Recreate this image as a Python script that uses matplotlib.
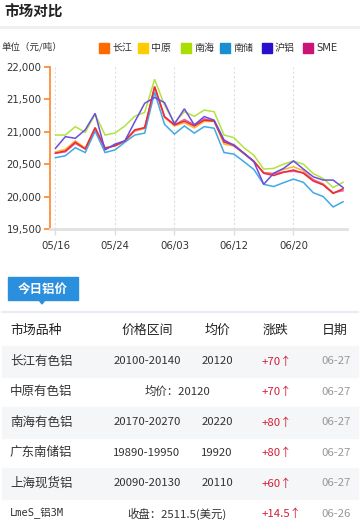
import matplotlib
matplotlib.use("Agg")
import matplotlib.pyplot as plt
from matplotlib.patches import Rectangle, Polygon
from matplotlib.lines import Line2D
from matplotlib.ticker import FuncFormatter

plt.rcParams['font.family'] = ['Noto Sans CJK SC', 'DejaVu Sans']

# ---------------- data ----------------
dates = ['05/16', '05/17', '05/20', '05/21', '05/22', '05/23', '05/24', '05/27', '05/28', '05/29',
         '05/30', '05/31', '06/03', '06/04', '06/05', '06/06', '06/10', '06/11', '06/12', '06/13',
         '06/14', '06/17', '06/18', '06/19', '06/20', '06/21', '06/24', '06/25', '06/26', '06/27']
tick_dates = ['05/16', '05/24', '06/03', '06/12', '06/20']

changjiang = [20670, 20705, 20840, 20735, 21065, 20745, 20785, 20860, 21030, 21065, 21700, 21235, 21105,
              21165, 21090, 21180, 21165, 20840, 20795, 20670, 20550, 20360, 20325, 20375, 20410, 20360,
              20240, 20180, 20050, 20120]
zhongyuan = [20690, 20730, 20860, 20750, 21060, 20760, 20780, 20850, 21010, 21050, 21680, 21220, 21090,
             21140, 21060, 21160, 21160, 20810, 20780, 20660, 20540, 20370, 20360, 20420, 20460, 20400,
             20260, 20200, 20050, 20120]
nanhai = [20950, 20950, 21080, 20990, 21270, 20950, 20980, 21090, 21240, 21300, 21810, 21410, 21140,
          21310, 21240, 21335, 21310, 20950, 20910, 20755, 20640, 20425, 20435, 20500, 20550, 20500,
          20355, 20280, 20140, 20220]
nanchu = [20600, 20630, 20755, 20680, 21010, 20680, 20720, 20840, 20950, 20980, 21610, 21115, 20965,
          21090, 20980, 21080, 21055, 20680, 20655, 20540, 20420, 20190, 20155, 20215, 20270, 20220,
          20060, 20000, 19840, 19920]
hulv = [20745, 20925, 20900, 21030, 21285, 20720, 20810, 20860, 21155, 21440, 21530, 21450, 21120,
        21355, 21105, 21235, 21180, 20875, 20785, 20670, 20540, 20190, 20360, 20435, 20550, 20425,
        20305, 20255, 20255, 20140]
sme = [20670, 20690, 20820, 20735, 21050, 20740, 20790, 20860, 21020, 21060, 21690, 21230, 21110,
       21190, 21110, 21200, 21170, 20860, 20800, 20670, 20540, 20370, 20350, 20380, 20390, 20370,
       20260, 20190, 20060, 20090]

legend_names = ['长江', '中原', '南海', '南储', '沪铝', 'SME']
legend_colors = ['#ff6a00', '#ffcc00', '#aadd00', '#1a8fd0', '#2a10cc', '#cc1177']

# table
t_header = ['市场品种', '价格区间', '均价', '涨跌', '日期']
t_names = ['长江有色铝', '中原有色铝', '南海有色铝', '广东南储铝', '上海现货铝', 'LmeS_铝3M']
t_ranges = ['20100-20140', '均价：20120', '20170-20270', '19890-19950', '20090-20130', '收盘：2511.5(美元)']
t_avgs = ['20120', '', '20220', '19920', '20110', '']
t_changes = ['+70', '+70', '+80', '+80', '+60', '+14.5']
t_dates = ['06-27', '06-27', '06-27', '06-27', '06-27', '06-26']

# ---------------- figure ----------------
W, H = 360, 528
fig = plt.figure(figsize=(W / 100, H / 100), dpi=100)
fig.patch.set_facecolor('white')


def fx(x):
    return x / W


def fy(y):
    return 1 - y / H


# title
fig.text(fx(4), fy(12), '市场对比', fontsize=10.5, fontweight='bold', color='#222222', va='center', ha='left')
fig.add_artist(Line2D([0, 1], [fy(27), fy(27)], color='#f0f0f0', lw=2))

fig.text(fx(2), fy(47), '单位（元/吨）', fontsize=6.8, color='#333333', va='center', ha='left')
leg_x = [99, 138, 181, 220, 262, 303]
for lx, name, col in zip(leg_x, legend_names, legend_colors):
    fig.add_artist(Rectangle((fx(lx), fy(53)), 10 / W, 10 / H, color=col, transform=fig.transFigure))
    fig.text(fx(lx + 13), fy(48), name, fontsize=7.2, color='#333333', va='center', ha='left',
             family=['DejaVu Sans', 'Noto Sans CJK SC'] if name == 'SME' else ['Noto Sans CJK SC'])

# chart axes
ax = fig.add_axes([fx(50), fy(229), 297 / W, 162 / H])
idx = list(range(len(dates)))
series = [
    (zhongyuan, '#ffb62e'),
    (sme, '#ea5fa0'),
    (nanchu, '#3fa9e6'),
    (nanhai, '#b2e240'),
    (changjiang, '#ea2a3a'),
    (hulv, '#6a4de2'),
]
for vals, col in series:
    ax.plot(idx, vals, color=col, lw=1.1, solid_joinstyle='miter')

ax.set_xlim(-0.55, 29.4)
ax.set_ylim(19500, 22000)
ax.set_yticks([19500, 20000, 20500, 21000, 21500, 22000])
ax.yaxis.set_major_formatter(FuncFormatter(lambda v, p: f'{int(v):,}'))
ticks_idx = [dates.index(d) for d in tick_dates]
ax.set_xticks(ticks_idx)
ax.set_xticklabels(tick_dates)
for s in ['top', 'right']:
    ax.spines[s].set_visible(False)
ax.spines['left'].set_color('#ff8c3a')
ax.spines['left'].set_linewidth(1.3)
ax.spines['bottom'].set_color('#e0e0e0')
ax.spines['bottom'].set_linewidth(2)
ax.tick_params(axis='y', colors='#ff8c3a', length=4, width=1.3, direction='out', pad=2,
               labelcolor='#333333', labelsize=7.3)
ax.tick_params(axis='x', colors='#dddddd', length=4, width=1, direction='out', pad=5,
               labelcolor='#333333', labelsize=7.3)
for lab in ax.get_xticklabels() + ax.get_yticklabels():
    lab.set_family('DejaVu Sans')
ax.grid(axis='x', color='#dddddd', linestyle=(0, (2, 2)), lw=0.8)
ax.set_axisbelow(True)

# tab
fig.add_artist(Rectangle((fx(8), fy(300)), 70 / W, 23 / H, color='#2a8fdc', transform=fig.transFigure))
fig.add_artist(Polygon([(fx(39), fy(300)), (fx(45), fy(300)), (fx(42), fy(304))], closed=True,
                       color='#2a8fdc', transform=fig.transFigure))
fig.text(fx(43), fy(289), '今日铝价', fontsize=9, fontweight='bold', color='white', ha='center', va='center')
fig.add_artist(Line2D([fx(2), fx(358)], [fy(312), fy(312)], color='#e8edf3', lw=1.5))

# table
col_name_x = 10
col_range_x = 147
col_avg_x = 217
col_chg_x = 262
col_date_x = 336
merged_x = 177

hy = 330
fig.text(fx(col_name_x), fy(hy), t_header[0], fontsize=9.3, color='#222222', ha='left', va='center')
fig.text(fx(col_range_x), fy(hy), t_header[1], fontsize=9.3, color='#222222', ha='center', va='center')
fig.text(fx(col_avg_x), fy(hy), t_header[2], fontsize=9.3, color='#222222', ha='center', va='center')
fig.text(fx(275), fy(hy), t_header[3], fontsize=9.3, color='#222222', ha='center', va='center')
fig.text(fx(335), fy(hy), t_header[4], fontsize=9.3, color='#222222', ha='center', va='center')

row_top = 346
row_h = 30.5
for i in range(len(t_names)):
    top = row_top + i * row_h
    cy = top + row_h / 2
    if i % 2 == 0:
        fig.add_artist(Rectangle((fx(2), fy(top + row_h)), 356 / W, row_h / H, color='#f5f6f8',
                                 transform=fig.transFigure, zorder=0))
    name = t_names[i]
    if name.startswith('Lme'):
        fig.text(fx(col_name_x), fy(cy), name, fontsize=7.5, color='#333333', ha='left', va='center',
                 family=['DejaVu Sans Mono', 'Noto Sans CJK SC'])
    else:
        fig.text(fx(col_name_x), fy(cy), name, fontsize=9, color='#333333', ha='left', va='center')
    if t_avgs[i]:
        fig.text(fx(col_range_x), fy(cy), t_ranges[i], fontsize=8.2, color='#333333', ha='center', va='center')
        fig.text(fx(col_avg_x), fy(cy), t_avgs[i], fontsize=8.2, color='#333333', ha='center', va='center')
    else:
        fig.text(fx(merged_x), fy(cy), t_ranges[i], fontsize=8.2, color='#333333', ha='center', va='center')
    fig.text(fx(col_chg_x), fy(cy), t_changes[i] + '↑', fontsize=8.2, color='#d0213a', ha='left', va='center',
             family=['Noto Sans CJK SC', 'DejaVu Sans'])
    fig.text(fx(col_date_x), fy(cy), t_dates[i], fontsize=8.2, color='#999999', ha='center', va='center')

fig.savefig('out.png', dpi=100, facecolor='white')
